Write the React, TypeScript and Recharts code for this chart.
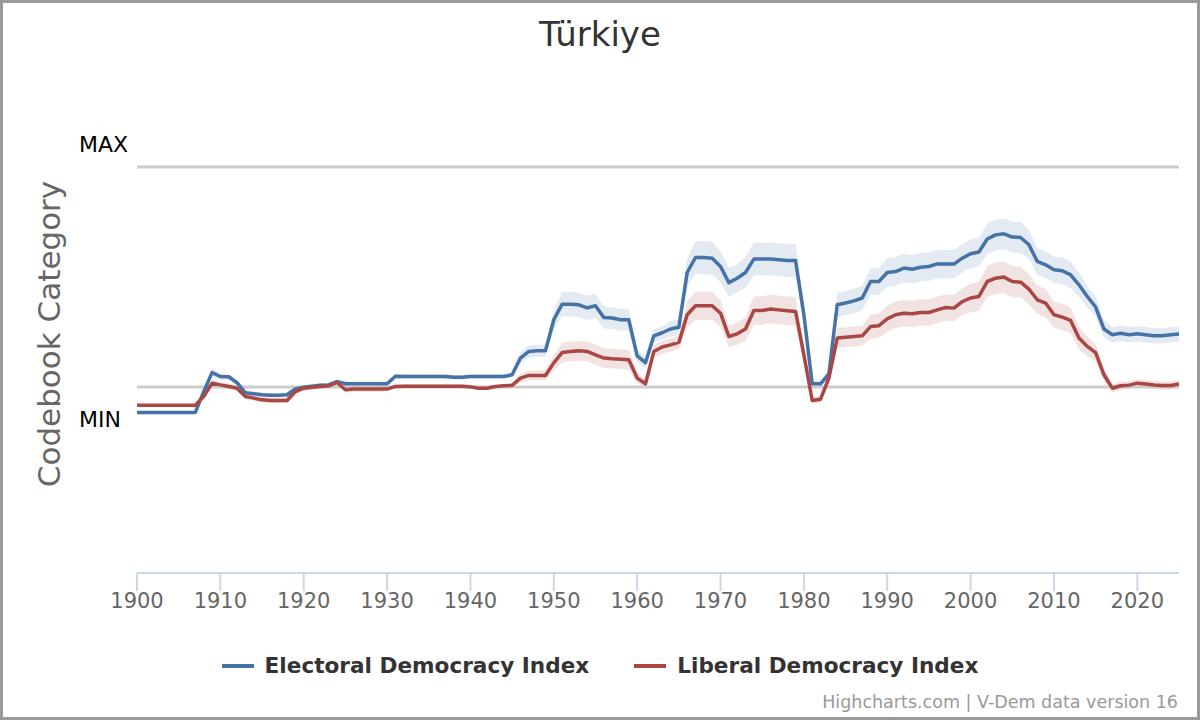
import React from "react";
import {
  ComposedChart,
  Line,
  Area,
  XAxis,
  YAxis,
  ReferenceLine,
} from "recharts";

const years = Array.from({ length: 126 }, (_, i) => 1900 + i);
const decadeTicks = [1900, 1910, 1920, 1930, 1940, 1950, 1960, 1970, 1980, 1990, 2000, 2010, 2020];
const categoryTicks = [0, 1];

// Electoral Democracy Index (MIN = 0, MAX = 1 on the chart's scale)
const electoral = [
  -0.115, -0.115, -0.115, -0.115, -0.115, -0.115, -0.115, -0.115, -0.021, 0.066,
  0.048, 0.047, 0.02, -0.026, -0.03, -0.035, -0.037, -0.037, -0.035, -0.008,
  -0.001, 0.004, 0.008, 0.01, 0.025, 0.015, 0.015, 0.015, 0.015, 0.015,
  0.015, 0.049, 0.048, 0.048, 0.048, 0.048, 0.048, 0.048, 0.045, 0.045,
  0.048, 0.048, 0.048, 0.048, 0.048, 0.056, 0.132, 0.162, 0.165, 0.165,
  0.306, 0.377, 0.377, 0.374, 0.36, 0.37, 0.316, 0.314, 0.306, 0.306,
  0.142, 0.111, 0.233, 0.247, 0.264, 0.272, 0.521, 0.589, 0.589, 0.586,
  0.548, 0.475, 0.495, 0.521, 0.582, 0.582, 0.582, 0.579, 0.575, 0.575,
  0.329, 0.015, 0.015, 0.06, 0.374, 0.382, 0.392, 0.405, 0.48, 0.48,
  0.521, 0.525, 0.541, 0.536, 0.545, 0.548, 0.56, 0.559, 0.559, 0.586,
  0.606, 0.614, 0.673, 0.692, 0.697, 0.682, 0.68, 0.647, 0.571, 0.556,
  0.533, 0.529, 0.51, 0.465, 0.412, 0.364, 0.264, 0.238, 0.245, 0.238,
  0.242, 0.238, 0.233, 0.233, 0.238, 0.241,
];

const electoralMargin = [
  0.005, 0.005, 0.005, 0.005, 0.005, 0.005, 0.005, 0.005, 0.012, 0.018,
  0.015, 0.012, 0.01, 0.01, 0.01, 0.01, 0.01, 0.01, 0.01, 0.01,
  0.01, 0.01, 0.01, 0.01, 0.01, 0.01, 0.01, 0.01, 0.01, 0.01,
  0.01, 0.01, 0.01, 0.01, 0.01, 0.01, 0.01, 0.01, 0.01, 0.01,
  0.01, 0.01, 0.01, 0.01, 0.01, 0.012, 0.025, 0.028, 0.028, 0.028,
  0.045, 0.055, 0.055, 0.055, 0.055, 0.055, 0.05, 0.05, 0.05, 0.05,
  0.03, 0.025, 0.03, 0.03, 0.035, 0.035, 0.065, 0.075, 0.075, 0.075,
  0.07, 0.065, 0.065, 0.07, 0.075, 0.075, 0.075, 0.075, 0.075, 0.075,
  0.05, 0.012, 0.012, 0.02, 0.055, 0.055, 0.055, 0.055, 0.06, 0.06,
  0.065, 0.065, 0.065, 0.065, 0.065, 0.065, 0.065, 0.065, 0.065, 0.065,
  0.065, 0.065, 0.07, 0.07, 0.07, 0.07, 0.07, 0.065, 0.06, 0.06,
  0.06, 0.06, 0.06, 0.055, 0.05, 0.045, 0.04, 0.035, 0.035, 0.035,
  0.035, 0.035, 0.035, 0.035, 0.035, 0.035,
];

// Liberal Democracy Index
const liberal = [
  -0.082, -0.082, -0.082, -0.082, -0.082, -0.082, -0.082, -0.082, -0.043, 0.018,
  0.01, 0.003, -0.005, -0.043, -0.05, -0.058, -0.061, -0.061, -0.061, -0.02,
  -0.005, -0.001, 0.003, 0.006, 0.021, -0.012, -0.009, -0.009, -0.009, -0.009,
  -0.009, 0.003, 0.004, 0.004, 0.004, 0.004, 0.004, 0.004, 0.004, 0.004,
  0.001, -0.005, -0.005, 0.003, 0.006, 0.008, 0.041, 0.053, 0.053, 0.053,
  0.11, 0.157, 0.162, 0.165, 0.162, 0.147, 0.132, 0.129, 0.127, 0.124,
  0.041, 0.015, 0.162, 0.182, 0.192, 0.203, 0.329, 0.37, 0.37, 0.37,
  0.336, 0.23, 0.242, 0.264, 0.348, 0.348, 0.355, 0.351, 0.347, 0.344,
  0.147, -0.061, -0.055, 0.041, 0.223, 0.227, 0.23, 0.233, 0.275, 0.279,
  0.31, 0.329, 0.336, 0.333, 0.339, 0.339, 0.351, 0.362, 0.359, 0.389,
  0.405, 0.412, 0.48, 0.495, 0.5, 0.48, 0.477, 0.445, 0.397, 0.382,
  0.329, 0.318, 0.303, 0.223, 0.185, 0.157, 0.056, -0.005, 0.006, 0.009,
  0.018, 0.014, 0.01, 0.007, 0.007, 0.014,
];

const liberalMargin = [
  0.005, 0.005, 0.005, 0.005, 0.005, 0.005, 0.005, 0.005, 0.012, 0.015,
  0.012, 0.012, 0.012, 0.012, 0.012, 0.012, 0.012, 0.012, 0.012, 0.012,
  0.012, 0.012, 0.012, 0.012, 0.012, 0.012, 0.012, 0.012, 0.012, 0.012,
  0.008, 0.008, 0.008, 0.008, 0.008, 0.008, 0.008, 0.008, 0.008, 0.008,
  0.008, 0.008, 0.008, 0.008, 0.008, 0.01, 0.02, 0.022, 0.022, 0.022,
  0.035, 0.045, 0.045, 0.045, 0.045, 0.045, 0.045, 0.045, 0.045, 0.045,
  0.025, 0.02, 0.03, 0.03, 0.03, 0.03, 0.06, 0.065, 0.065, 0.065,
  0.06, 0.05, 0.05, 0.055, 0.065, 0.065, 0.065, 0.065, 0.065, 0.065,
  0.045, 0.015, 0.015, 0.025, 0.045, 0.045, 0.045, 0.045, 0.055, 0.055,
  0.06, 0.06, 0.06, 0.06, 0.06, 0.06, 0.06, 0.06, 0.06, 0.06,
  0.065, 0.065, 0.072, 0.072, 0.072, 0.072, 0.07, 0.068, 0.065, 0.065,
  0.06, 0.06, 0.058, 0.05, 0.045, 0.04, 0.03, 0.018, 0.018, 0.018,
  0.018, 0.018, 0.018, 0.018, 0.018, 0.018,
];

const BLUE = "#4572a7";
const RED = "#aa4643";
const FONT = '"DejaVu Sans", "Lucida Grande", sans-serif';

const data = years.map((year, i) => ({
  year,
  electoral: electoral[i],
  electoralBand: [electoral[i] - electoralMargin[i], electoral[i] + electoralMargin[i]],
  liberal: liberal[i],
  liberalBand: [liberal[i] - liberalMargin[i], liberal[i] + liberalMargin[i]],
}));

const CategoryTick = (props: any) => {
  const { y, payload } = props;
  const isMax = payload.value === 1;
  return (
    <text
      x={79}
      y={isMax ? y - 15 : y + 40}
      fill="#000"
      fontSize={22}
      fontFamily={FONT}
      textAnchor="start"
    >
      {isMax ? "MAX" : "MIN"}
    </text>
  );
};

const legendItems = [
  { name: "Electoral Democracy Index", color: BLUE },
  { name: "Liberal Democracy Index", color: RED },
];

export default function App() {
  return (
    <div
      style={{
        position: "absolute",
        left: 0,
        top: 0,
        width: 1200,
        height: 720,
        background: "#fff",
        fontFamily: FONT,
        overflow: "hidden",
      }}
    >
      <ComposedChart
        width={1200}
        height={720}
        data={data}
        margin={{ top: 78, right: 21, bottom: 0, left: 0 }}
      >
        {categoryTicks.map((t) => (
          <ReferenceLine key={t} y={t} stroke="#cccccc" strokeWidth={3} />
        ))}
        <XAxis
          dataKey="year"
          type="number"
          domain={[1900, 2025]}
          ticks={decadeTicks}
          interval={0}
          tickSize={18}
          stroke="#ccd6eb"
          strokeWidth={2}
          tick={{ fill: "#666", fontSize: 21, fontFamily: FONT }}
          height={147}
        />
        <YAxis
          type="number"
          domain={[-0.845, 1.405]}
          ticks={categoryTicks}
          width={137}
          axisLine={false}
          tickLine={false}
          tick={<CategoryTick />}
        />
        <Area
          dataKey="electoralBand"
          type="linear"
          stroke="none"
          fill={BLUE}
          fillOpacity={0.15}
          isAnimationActive={false}
        />
        <Area
          dataKey="liberalBand"
          type="linear"
          stroke="none"
          fill={RED}
          fillOpacity={0.15}
          isAnimationActive={false}
        />
        <Line
          dataKey="electoral"
          type="linear"
          stroke={BLUE}
          strokeWidth={3.5}
          strokeLinejoin="round"
          dot={false}
          isAnimationActive={false}
        />
        <Line
          dataKey="liberal"
          type="linear"
          stroke={RED}
          strokeWidth={3.5}
          strokeLinejoin="round"
          dot={false}
          isAnimationActive={false}
        />
      </ComposedChart>

      <div
        style={{
          position: "absolute",
          left: 0,
          top: 14,
          width: 1200,
          textAlign: "center",
          fontSize: 34,
          color: "#333",
        }}
      >
        Türkiye
      </div>

      <div
        style={{
          position: "absolute",
          left: 49,
          top: 334,
          transform: "translate(-50%, -50%) rotate(-90deg)",
          whiteSpace: "nowrap",
          fontSize: 31,
          color: "#666",
        }}
      >
        Codebook Category
      </div>

      <div
        style={{
          position: "absolute",
          left: 0,
          top: 653,
          width: 1200,
          display: "flex",
          justifyContent: "center",
          gap: 45,
        }}
      >
        {legendItems.map((item) => (
          <div key={item.name} style={{ display: "flex", alignItems: "center" }}>
            <div style={{ width: 32, height: 4, background: item.color, marginRight: 11 }} />
            <span style={{ fontSize: 21.6, fontWeight: "bold", color: "#333" }}>
              {item.name}
            </span>
          </div>
        ))}
      </div>

      <div
        style={{
          position: "absolute",
          right: 22,
          top: 692,
          fontSize: 17.5,
          color: "#999",
          whiteSpace: "nowrap",
        }}
      >
        Highcharts.com | V-Dem data version 16
      </div>

      <div
        style={{
          position: "absolute",
          left: 0,
          top: 0,
          width: 1200,
          height: 720,
          boxSizing: "border-box",
          border: "3px solid #999",
          pointerEvents: "none",
        }}
      />
    </div>
  );
}
